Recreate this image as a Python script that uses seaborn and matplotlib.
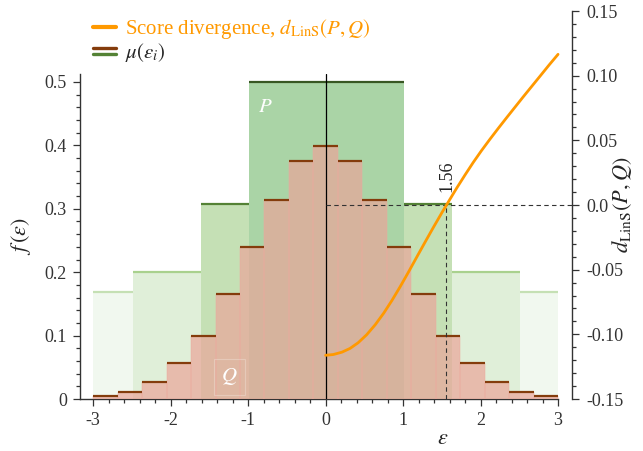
import numpy as np
import pandas as pd
import matplotlib
matplotlib.use("Agg")
import matplotlib.pyplot as plt
import seaborn as sns
from matplotlib.lines import Line2D
from matplotlib.legend_handler import HandlerBase
from matplotlib.ticker import FixedLocator, FixedFormatter

# ---------------- data ----------------
q_edges = [float(v) for v in np.linspace(-3, 3, 20)]
q_heights = [0.0047, 0.011, 0.027, 0.057, 0.100, 0.165, 0.239, 0.314, 0.375, 0.399,
             0.375, 0.314, 0.239, 0.165, 0.100, 0.057, 0.027, 0.011, 0.0047]

p_edges = [-3.0, -2.49, -1.61, -0.99, 1.01, 1.63, 2.51, 3.0]
p_heights = [0.168, 0.200, 0.308, 0.500, 0.308, 0.200, 0.168]

curve_x = [0.0, 0.10, 0.21, 0.315, 0.42, 0.53, 0.64, 0.75, 0.855, 0.96, 1.07, 1.175, 1.28,
           1.39, 1.50, 1.56, 1.69, 1.80, 1.905, 2.01, 2.12, 2.23, 2.34, 2.445, 2.55,
           2.66, 2.77, 2.885, 3.0]
curve_v = [-0.1162, -0.1156, -0.1138, -0.1109, -0.1065, -0.1003, -0.0926, -0.0836,
           -0.0739, -0.0634, -0.0518, -0.0404, -0.0291, -0.0174, -0.0060, 0.0000,
           0.0129, 0.0233, 0.0329, 0.0419, 0.0508, 0.0594, 0.0678, 0.0757, 0.0836,
           0.0917, 0.0998, 0.1083, 0.1165]
crossing = 1.56

x_ticks = [-3, -2, -1, 0, 1, 2, 3]
x_labels = ["-3", "-2", "-1", "0", "1", "2", "3"]
yl_ticks = [0, 0.1, 0.2, 0.3, 0.4, 0.5]
yl_labels = ["0", "0.1", "0.2", "0.3", "0.4", "0.5"]
yr_ticks = [-0.15, -0.10, -0.05, 0.0, 0.05, 0.10, 0.15]
yr_labels = ["-0.15", "-0.10", "-0.05", "0.0", "0.05", "0.10", "0.15"]

# ---------------- style ----------------
sns.set_style("ticks")
plt.rcParams.update({
    "font.family": ["Liberation Serif", "DejaVu Serif"],
    "mathtext.fontset": "stix",
    "axes.unicode_minus": False,
    "axes.edgecolor": "#333333",
    "axes.linewidth": 1.0,
    "xtick.color": "#333333",
    "ytick.color": "#333333",
    "xtick.labelcolor": "#333333",
    "ytick.labelcolor": "#333333",
})

ORANGE = "#ff9900"
BROWN = "#843c0c"
p_fill = ["#f1f8ef", "#e0efd9", "#c5e0b5", "#aad4a6", "#c5e0b5", "#e0efd9", "#f1f8ef"]
p_line = ["#c5e0b4", "#a9d18e", "#548235", "#385723", "#548235", "#a9d18e", "#c5e0b4"]
Q_COLOR = "#eaa69a"

W, H = 643, 451
fig = plt.figure(figsize=(W / 100, H / 100), dpi=100)
xlim = (-3.17, 3.18)

ax = fig.add_axes([80 / W, (H - 399) / H, 492 / W, 325 / H])
ax2 = fig.add_axes([80 / W, (H - 399) / H, 492 / W, 388 / H])
ax2.set_facecolor("none")

# P bars
p_left = np.array(p_edges[:-1])
p_width = np.diff(p_edges)
ax.bar(p_left, p_heights, width=p_width, align="edge", color=p_fill,
       edgecolor="none", linewidth=0, zorder=1)
ax.hlines(p_heights, p_edges[:-1], p_edges[1:], colors=p_line, lw=1.6, zorder=2)

# Q histogram
q_mid = [(a + b) / 2 for a, b in zip(q_edges[:-1], q_edges[1:])]
q_df = pd.DataFrame({"eps": q_mid, "f": q_heights})
sns.histplot(data=q_df, x="eps", weights="f", bins=q_edges, ax=ax, color=Q_COLOR,
             alpha=0.7, edgecolor="#eeaa9e", linewidth=0.35, zorder=3, stat="count")
ax.hlines(q_heights, q_edges[:-1], q_edges[1:], colors=BROWN, lw=1.6, zorder=4)
ax.axvline(0, color="black", lw=0.9, zorder=5)

ax.text(-0.78, 0.46, "$P$", color="white", fontsize=15, ha="center", va="center", zorder=6)
ax.text(-1.24, 0.035, "$Q$", color="white", fontsize=15, ha="center", va="center", zorder=6,
        bbox=dict(boxstyle="square,pad=0.35", fc="none", ec=(1, 1, 1, 0.25), lw=0.8))

ax.set_xlim(*xlim)
ax.set_ylim(0, 0.5126)
sns.despine(ax=ax, top=True, right=True)
ax.spines["bottom"].set_bounds(xlim[0], 3.0)
ax.xaxis.set_major_locator(FixedLocator(x_ticks))
ax.xaxis.set_major_formatter(FixedFormatter(x_labels))
ax.xaxis.set_minor_locator(FixedLocator(np.arange(-3, 3.01, 0.2)))
ax.yaxis.set_major_locator(FixedLocator(yl_ticks))
ax.yaxis.set_major_formatter(FixedFormatter(yl_labels))
ax.yaxis.set_minor_locator(FixedLocator(np.arange(0, 0.501, 0.02)))
ax.tick_params(which="major", length=5, width=0.9, labelsize=13, pad=4.5)
ax.tick_params(which="minor", length=2.6, width=0.9)
ax.set_xlabel(r"$\varepsilon$", fontsize=16)
ax.set_ylabel(r"$f\,(\varepsilon)$", fontsize=16)
ax.xaxis.set_label_coords((443 - 80) / 492, -(430 - 399) / 325)
ax.yaxis.set_label_coords((33 - 80) / 492, 0.5)

# right axis: score divergence
sns.lineplot(x=curve_x, y=curve_v, ax=ax2, color=ORANGE, lw=2.0, zorder=5, legend=False)
ax2.plot([0, xlim[1]], [0, 0], ls=(0, (4, 3)), color="#333333", lw=0.8, zorder=4)
ax2.plot([crossing, crossing], [-0.15, 0], ls=(0, (4, 3)), color="#333333", lw=0.8, zorder=4)
ax2.text(crossing + 0.01, 0.010, f"{crossing:.2f}", rotation=90, ha="center", va="bottom",
         fontsize=13, color="#222222")
ax2.set_xlim(*xlim)
ax2.set_ylim(-0.15, 0.15)
for s in ["left", "top", "bottom"]:
    ax2.spines[s].set_visible(False)
ax2.spines["right"].set_visible(True)
ax2.yaxis.tick_right()
ax2.yaxis.set_label_position("right")
ax2.tick_params(axis="x", bottom=False, labelbottom=False, top=False)
ax2.yaxis.set_major_locator(FixedLocator(yr_ticks))
ax2.yaxis.set_major_formatter(FixedFormatter(yr_labels))
ax2.yaxis.set_minor_locator(FixedLocator(np.arange(-0.15, 0.1501, 0.01)))
ax2.tick_params(axis="y", which="major", length=5, width=0.9, labelsize=13, pad=5)
ax2.tick_params(axis="y", which="minor", length=2.8, width=0.9)
ax2.set_ylabel(r"$d_{\mathrm{LinS}}(P,Q)$", fontsize=16)
ax2.yaxis.set_label_coords((610 - 80) / 492, 0.5)
ax2.set_xlabel("")


# legend
class MuHandle:
    pass


class MuHandler(HandlerBase):
    def create_artists(self, legend, orig_handle, xdescent, ydescent, width, height,
                       fontsize, trans):
        yc = 0.5 * height - ydescent
        l1 = Line2D([-xdescent, width - xdescent], [yc + 2.2, yc + 2.2], color=BROWN, lw=2.4)
        l2 = Line2D([-xdescent, width - xdescent], [yc - 2.2, yc - 2.2], color="#548235", lw=2.4)
        l1.set_transform(trans)
        l2.set_transform(trans)
        return [l1, l2]


h1 = Line2D([], [], color=ORANGE, lw=3)
leg = fig.legend([h1, MuHandle()],
                 [r"Score divergence, $d_{\mathrm{LinS}}(P,Q)$", r"$\mu(\epsilon_i)$"],
                 handler_map={MuHandle: MuHandler()},
                 loc="upper left", bbox_to_anchor=(93 / W, 1 - 17 / H),
                 frameon=False, fontsize=15, handlelength=1.1, handletextpad=0.45,
                 borderpad=0, borderaxespad=0, labelspacing=0.0)
leg.get_texts()[0].set_color(ORANGE)

fig.savefig("out.png", dpi=100)
